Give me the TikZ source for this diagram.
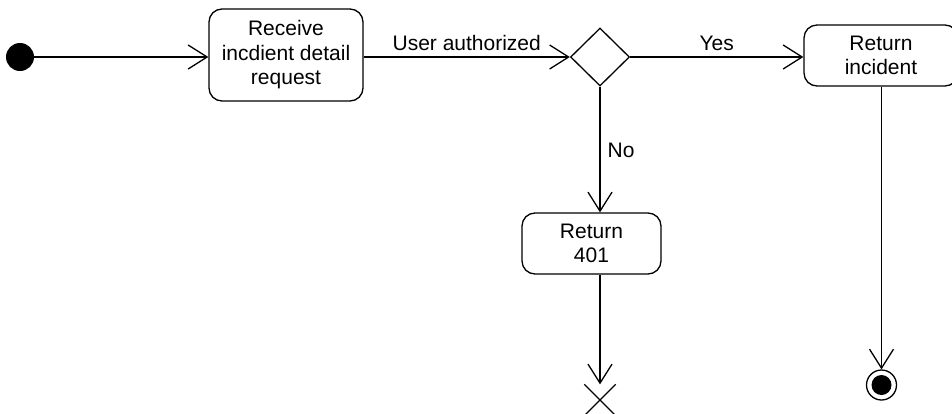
\documentclass[tikz,border=0pt]{standalone}
\usepackage{fontspec}
\setmainfont{Liberation Sans}
\usetikzlibrary{arrows.meta,shapes.geometric,shapes.misc}

\tikzset{
  flow/.style={draw, line width=1.3pt, -{Straight Barb[length=19pt,width=24pt,line width=1.3pt]}},
  act/.style={draw, line width=1.3pt, rounded corners=13pt, align=center, inner sep=0pt,
              font=\fontsize{21}{24.5}\selectfont},
  lbl/.style={inner sep=0pt, font=\fontsize{21}{24}\selectfont},
  startdot/.style={circle, fill=black, minimum size=28pt, inner sep=0pt},
  choice/.style={diamond, draw, line width=1.3pt, minimum width=59pt, minimum height=58pt, inner sep=0pt},
  enddot/.style={circle, draw, line width=1.3pt, minimum size=30pt, inner sep=0pt},
  stopx/.style={cross out, draw, line width=1.3pt, minimum size=30pt, inner sep=0pt}
}

\begin{document}
\begin{tikzpicture}[x=1pt, y=-1pt]
  \useasboundingbox (0,0) rectangle (952,413);

  % activity nodes
  \node[startdot] (start) at (20,57) {};
  \node[act, minimum width=154pt, minimum height=92pt] (recv) at (286,55) {Receive\\incdient detail\\request};
  \node[choice] (dec) at (600,57) {};
  \node[act, minimum width=154pt, minimum height=61pt] (ret) at (881,55.5) {Return\\incident};
  \node[act, minimum width=139pt, minimum height=61pt] (r401) at (591.5,243.5) {Return\\401};
  \node[stopx] (stop) at (600,400) {};
  \node[enddot] (end) at (881.5,385) {};
  \fill (end.center) circle (10pt);

  % transitions
  \draw[flow] (start) -- (start -| recv.west);
  \draw[flow] (recv.east |- dec) -- node[lbl, anchor=base, yshift=7pt] {User authorized} (dec.west);
  \draw[flow] (dec.east) -- node[lbl, anchor=base, yshift=7pt] {Yes} (dec -| ret.west);
  \draw[flow] (dec.south) -- node[lbl, anchor=west, xshift=7pt, pos=0.51] {No} (dec.south |- r401.north);
  \draw[flow] (r401.south -| dec) -- (stop.north);
  \draw[flow] (ret.south -| end) -- (end.north);
\end{tikzpicture}
\end{document}
